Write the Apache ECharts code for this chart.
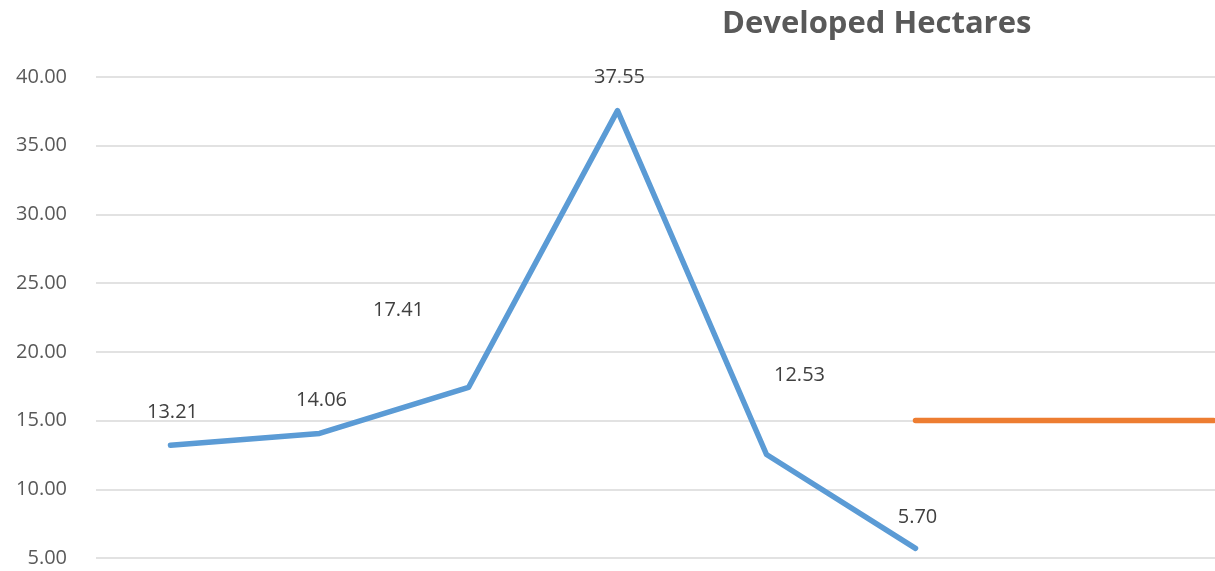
<!DOCTYPE html>
<html>
<head>
<meta charset="utf-8">
<title>Developed Hectares</title>
<script src="https://cdn.jsdelivr.net/npm/echarts@6/dist/echarts.min.js"></script>
<style>
html, body { margin: 0; padding: 0; background: #fff; }
#chart { width: 1215px; height: 571px; }
</style>
</head>
<body>
<div id="chart"></div>
<script type="text/javascript">
// data
var categories = ['1', '2', '3', '4', '5', '6', '7', '8'];
var developed = [13.21, 14.06, 17.41, 37.55, 12.53, 5.70, null, null];
var target = [null, null, null, null, null, 15, 15, 15];
var yTicks = { min: 5, max: 40, step: 5 };

// label placement (Excel put some labels off to the side)
var labelOffsets = [[2, -33], [2, -33], [-70, -77], [2, -33], [33, -79], [2, -31]];

var textFont = '"Open Sans", "Noto Sans", sans-serif';

var chart = echarts.init(document.getElementById('chart'));
chart.setOption({
    animation: false,
    title: {
        text: 'Developed Hectares',
        left: 717,
        top: 4,
        textStyle: {
            fontFamily: textFont,
            fontSize: 31,
            fontWeight: 'bold',
            color: '#595959'
        }
    },
    grid: {
        left: 96,
        top: 77,
        width: 1192,
        bottom: 13,
        outerBoundsMode: 'none',
        containLabel: false
    },
    xAxis: {
        type: 'category',
        data: categories,
        boundaryGap: true,
        axisLine: { show: false },
        axisTick: { show: false },
        axisLabel: { show: false },
        splitLine: { show: false }
    },
    yAxis: {
        type: 'value',
        min: yTicks.min,
        max: yTicks.max,
        interval: yTicks.step,
        axisLine: { show: false },
        axisTick: { show: false },
        axisLabel: {
            margin: 29,
            fontFamily: textFont,
            fontSize: 20,
            color: '#595959',
            formatter: function (v) { return v.toFixed(2); }
        },
        splitLine: { lineStyle: { color: '#d9d9d9', width: 1.5 } }
    },
    series: [{
        name: 'Developed Hectares',
        type: 'line',
        data: developed.map(function (v, i) {
            if (v === null) return null;
            return {
                value: v,
                label: { offset: labelOffsets[i] }
            };
        }),
        symbol: 'circle',
        symbolSize: 1,
        itemStyle: { color: '#5b9bd5' },
        lineStyle: { color: '#5b9bd5', width: 5.5, cap: 'round', join: 'round' },
        label: {
            show: true,
            position: 'inside',
            align: 'center',
            verticalAlign: 'middle',
            fontFamily: textFont,
            fontSize: 20,
            color: '#404040',
            formatter: function (p) { return p.value.toFixed(2); }
        },
        z: 3
    }, {
        name: 'Target',
        type: 'line',
        data: target,
        symbol: 'none',
        itemStyle: { color: '#ed7d31' },
        lineStyle: { color: '#ed7d31', width: 5.5, cap: 'round' },
        z: 2
    }]
});
</script>
</body>
</html>
